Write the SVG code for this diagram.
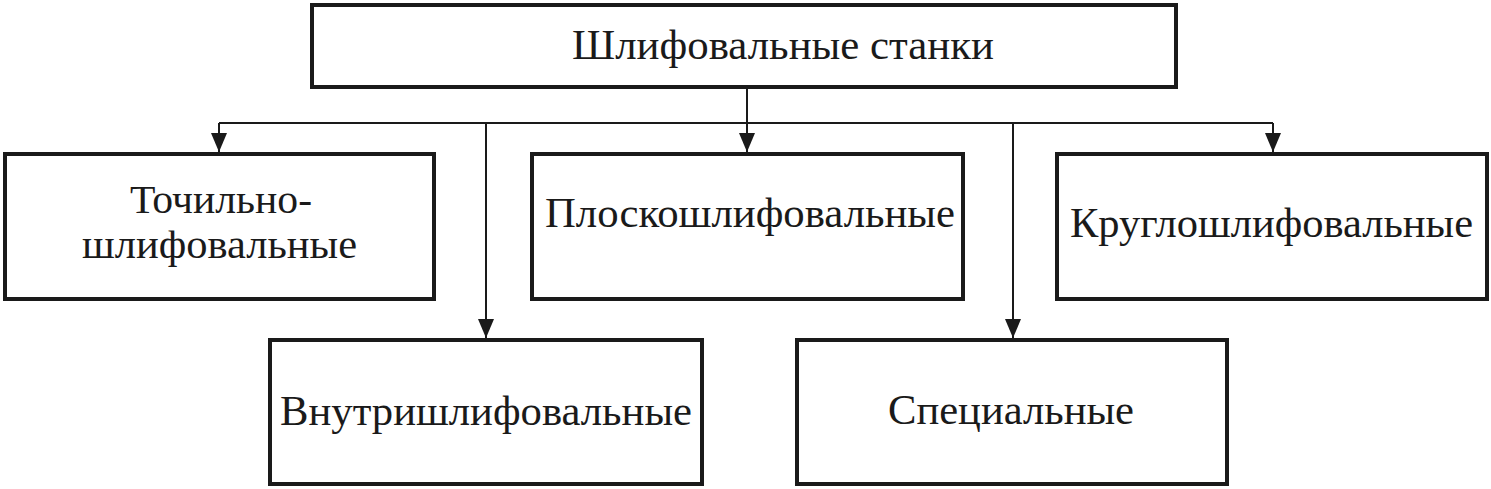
<svg xmlns="http://www.w3.org/2000/svg" width="1491" height="489" viewBox="0 0 1491 489">
<style>
.box{fill:#fff;stroke:#1a1a1a;stroke-width:4}
.lbl{font-family:"Liberation Serif","Times New Roman",serif;font-size:42px;fill:#1a1a1a}
.two{font-size:40px}
.con{fill:none;stroke:#1a1a1a;stroke-width:2}
.head{fill:#1a1a1a}
</style>
<rect width="1491" height="489" fill="#fff"/>
<g id="connectors">
<path class="con" d="M219 123 H1273"/>
<path class="con" d="M747 89 V152"/>
<path class="con" d="M219 123 V152"/>
<path class="con" d="M1273 123 V152"/>
<path class="con" d="M486 123 V338"/>
<path class="con" d="M1013 123 V338"/>
<path class="head" d="M739 133 L755 133 L747 152 Z"/>
<path class="head" d="M211 133 L227 133 L219 152 Z"/>
<path class="head" d="M1265 133 L1281 133 L1273 152 Z"/>
<path class="head" d="M478 319 L494 319 L486 338 Z"/>
<path class="head" d="M1005 319 L1021 319 L1013 338 Z"/>
</g>
<g id="node-root">
<rect class="box" x="312" y="5" width="864" height="82"/>
<text class="lbl" x="572" y="59" textLength="422" lengthAdjust="spacingAndGlyphs">Шлифовальные станки</text>
</g>
<g id="node-tochilno">
<rect class="box" x="5" y="154" width="429" height="145"/>
<text class="lbl two" x="130" y="213" textLength="182" lengthAdjust="spacingAndGlyphs">Точильно-</text>
<text class="lbl two" x="82" y="258" textLength="275" lengthAdjust="spacingAndGlyphs">шлифовальные</text>
</g>
<g id="node-plosko">
<rect class="box" x="532" y="154" width="431" height="145"/>
<text class="lbl" x="545" y="227" textLength="410" lengthAdjust="spacingAndGlyphs">Плоскошлифовальные</text>
</g>
<g id="node-kruglo">
<rect class="box" x="1057" y="154" width="430" height="145"/>
<text class="lbl" x="1070" y="237" textLength="403" lengthAdjust="spacingAndGlyphs">Круглошлифовальные</text>
</g>
<g id="node-vnutri">
<rect class="box" x="270" y="340" width="432" height="144"/>
<text class="lbl" x="280" y="425" textLength="412" lengthAdjust="spacingAndGlyphs">Внутришлифовальные</text>
</g>
<g id="node-special">
<rect class="box" x="797" y="340" width="430" height="144"/>
<text class="lbl" x="888" y="424" textLength="246" lengthAdjust="spacingAndGlyphs">Специальные</text>
</g>
</svg>
